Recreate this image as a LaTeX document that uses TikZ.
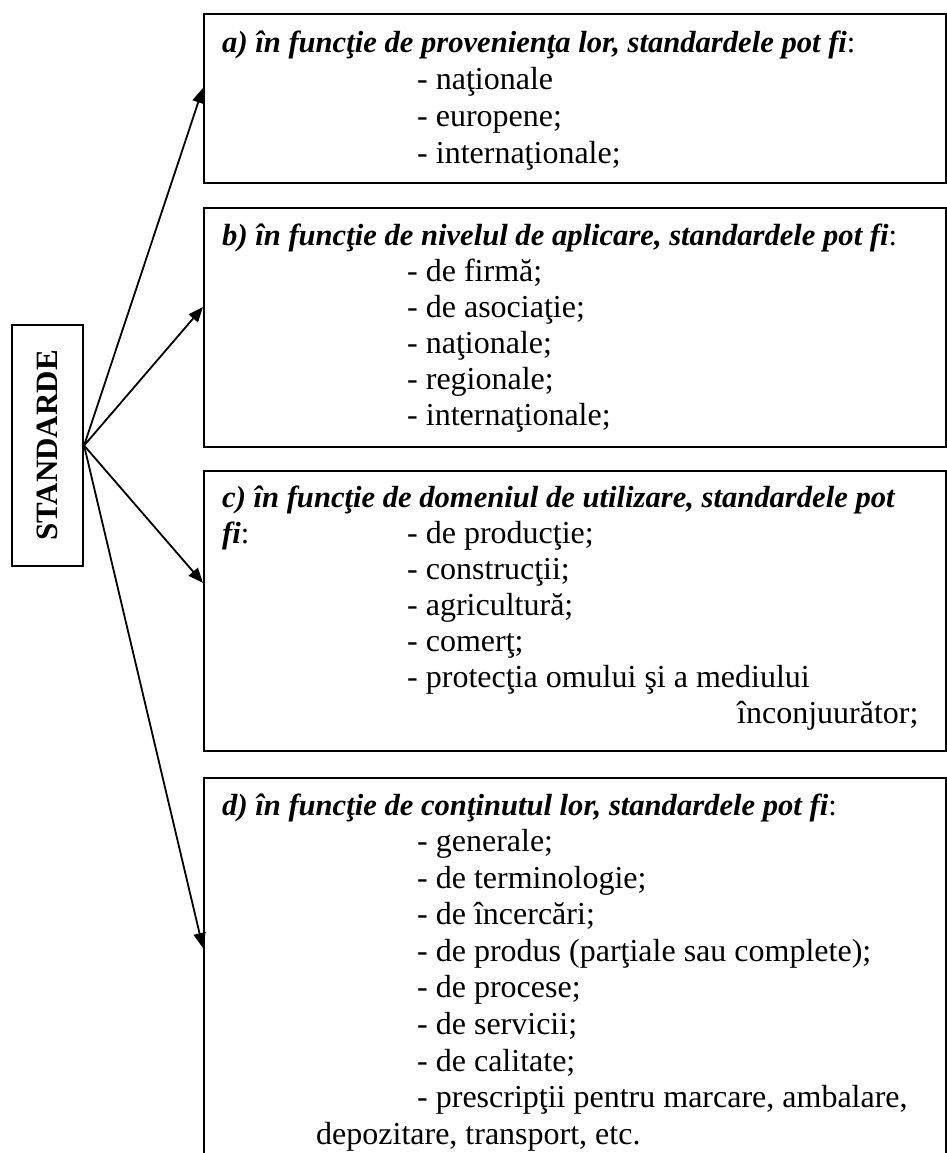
\documentclass[tikz,border=0pt]{standalone}
\usepackage{fontspec}
\setmainfont{Liberation Serif}
\usetikzlibrary{arrows.meta}
\begin{document}
\begin{tikzpicture}[x=1pt,y=-1pt,
  frame/.style={draw, line width=2.4pt, inner sep=0pt, anchor=north west, minimum width=742pt},
  head/.style={anchor=base west, inner sep=0pt, font=\fontsize{30.6}{36.8}\selectfont\bfseries\itshape},
  item/.style={anchor=base west, inner sep=0pt, font=\fontsize{32}{36.8}\selectfont},
  conn/.style={line width=1.8pt, -{Triangle[length=15pt,width=12pt]}}]
\useasboundingbox (0,0) rectangle (946,1153);
% frames
\node[frame, minimum height=169pt] (boxa) at (203,13) {};
\node[frame, minimum height=239pt] (boxb) at (203,207) {};
\node[frame, minimum height=280pt] (boxc) at (203,470) {};
\node[frame, minimum height=400pt] (boxd) at (203,777) {};
\node[draw, line width=2.2pt, inner sep=0pt, minimum width=71pt, minimum height=241pt] (std) at (47.5,445.5) {};
\node[rotate=90, inner sep=0pt, font=\fontsize{31}{36}\selectfont\bfseries] (stdt) at (std.center) {STANDARDE};
% box a
\node[head] (ha) at (222,53) {a) în funcţie de provenienţa lor, standardele pot fi{\normalfont:}};
\node[item] (a1) at (417,90) {- naţionale};
\node[item] (a2) at (417,127) {- europene;};
\node[item] (a3) at (417,163) {- internaţionale;};
% box b
\node[head] (hb) at (222,245) {b) în funcţie de nivelul de aplicare, standardele pot fi{\normalfont:}};
\node[item] (b1) at (407,281) {- de firmă;};
\node[item] (b2) at (407,317) {- de asociaţie;};
\node[item] (b3) at (407,353) {- naţionale;};
\node[item] (b4) at (407,389) {- regionale;};
\node[item] (b5) at (407,425) {- internaţionale;};
% box c
\node[head] (hc) at (222,507) {c) în funcţie de domeniul de utilizare, standardele pot};
\node[head] (hc2) at (222,543) {fi{\normalfont:}};
\node[item] (c1) at (407,543) {- de producţie;};
\node[item] (c2) at (407,579) {- construcţii;};
\node[item] (c3) at (407,615) {- agricultură;};
\node[item] (c4) at (407,651) {- comerţ;};
\node[item] (c5) at (407,687) {- protecţia omului şi a mediului};
\node[item] (c6) at (737,723) {înconjuurător;};
% box d
\node[head] (hd) at (222,815) {d) în funcţie de conţinutul lor, standardele pot fi{\normalfont:}};
\node[item] (d1) at (417,851) {- generale;};
\node[item] (d2) at (417,888) {- de terminologie;};
\node[item] (d3) at (417,924) {- de încercări;};
\node[item] (d4) at (417,961) {- de produs (parţiale sau complete);};
\node[item] (d5) at (417,997) {- de procese;};
\node[item] (d6) at (417,1034) {- de servicii;};
\node[item] (d7) at (417,1071) {- de calitate;};
\node[item] (d8) at (417,1107) {- prescripţii pentru marcare, ambalare,};
\node[item] (d9) at (316,1144) {depozitare, transport, etc.};
% connectors
\coordinate (ta) at (203,88);
\coordinate (tb) at (203,307);
\coordinate (tc) at (203,583);
\coordinate (td) at (203,948);
\draw[conn] (std.east) -- (ta);
\draw[conn] (std.east) -- (tb);
\draw[conn] (std.east) -- (tc);
\draw[conn] (std.east) -- (td);
\end{tikzpicture}
\end{document}
